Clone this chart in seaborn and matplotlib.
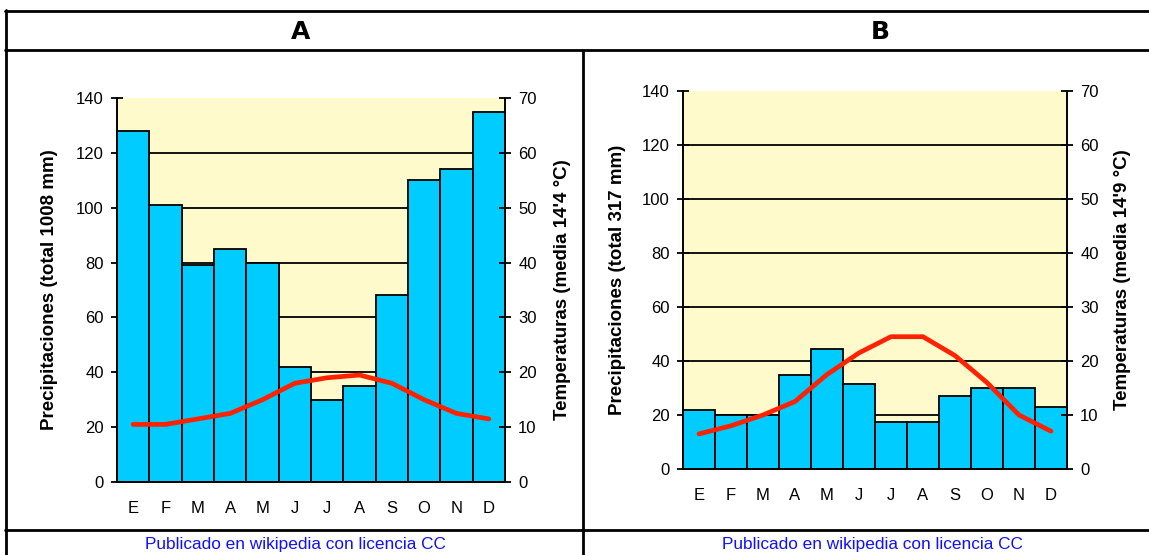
import numpy as np
import pandas as pd
import seaborn as sns
import matplotlib
matplotlib.use("Agg")
import matplotlib.pyplot as plt
from matplotlib.lines import Line2D
from matplotlib.ticker import MultipleLocator, FixedLocator

# Data
meses = ["E", "F", "M", "A", "M", "J", "J", "A", "S", "O", "N", "D"]
precip_a = [128, 101, 79, 85, 80, 42, 30, 35, 68, 110, 114, 135]
temp_a = [10.5, 10.5, 11.5, 12.5, 15, 18, 19, 19.5, 18, 15, 12.5, 11.5]
precip_b = [22, 20, 20, 35, 44.5, 31.5, 17.5, 17.5, 27, 30, 30, 23]
temp_b = [6.5, 8, 10, 12.5, 17.5, 21.5, 24.5, 24.5, 21, 16, 10, 7]

titulos = ["A", "B"]
label_prec = ["Precipitaciones (total 1008 mm)", "Precipitaciones (total 317 mm)"]
label_temp = ["Temperaturas (media 14'4 °C)", "Temperaturas (media 14'9 °C)"]
pie = "Publicado en wikipedia con licencia CC"

W, H = 1149, 555
BAR = "#00CCFF"
FONDO = "#FFFACC"
ROJO = "#FF2200"
PREC_MAX = 140

sns.set_theme(style="white")
plt.rcParams["font.family"] = ["Liberation Sans", "DejaVu Sans"]

fig = plt.figure(figsize=(W / 100, H / 100), dpi=100)
fig.patch.set_facecolor("white")


def px_axes(left, top, right, bottom):
    return [left / W, 1 - bottom / H, (right - left) / W, (bottom - top) / H]


def panel(rect, precip, temp, lab_p, lab_t, lx, rx):
    ax = fig.add_axes(px_axes(*rect))
    df = pd.DataFrame({"pos": np.arange(len(precip)), "prec": precip, "temp": temp})
    ax.set_facecolor(FONDO)
    sns.barplot(data=df, x="pos", y="prec", color=BAR, edgecolor="black",
                linewidth=1.3, width=1.0, saturation=1, ax=ax, zorder=2)
    ax.set_xlim(-0.5, len(precip) - 0.5)
    ax.set_ylim(0, PREC_MAX)
    yt = np.arange(0, PREC_MAX + 1, 20)
    ax.yaxis.set_major_locator(FixedLocator(yt))
    # horizontal grid behind the bars, none on the top edge
    ax.hlines(yt[1:-1], -0.5, len(precip) - 0.5, colors="black",
              linewidth=1.3, zorder=1)
    ax.set_xticks(np.arange(len(meses)), meses)
    ax.xaxis.set_minor_locator(FixedLocator(np.arange(-0.5, len(meses), 1)))
    ax.tick_params(axis="x", which="major", length=0, pad=14, labelsize=12, colors="black")
    ax.tick_params(axis="x", which="minor", length=7, width=1.3, direction="out", color="black")
    ax.tick_params(axis="y", length=9, width=1.3, direction="inout", pad=5,
                   labelsize=12, colors="black", left=True)
    for s in ["top", "right"]:
        ax.spines[s].set_visible(False)
    for s in ["left", "bottom"]:
        ax.spines[s].set_color("black")
        ax.spines[s].set_linewidth(1.4)
    ax.set_xlabel("")
    ax.set_ylabel(lab_p, fontsize=13.5, fontweight="bold", color="black")
    ax.yaxis.set_label_coords(lx, 0.5)

    ax2 = ax.twinx()
    sns.lineplot(data=df, x="pos", y="temp", color=ROJO, linewidth=3.4, ax=ax2)
    ax2.set_ylim(0, PREC_MAX / 2)
    ax2.yaxis.set_major_locator(MultipleLocator(10))
    ax2.tick_params(axis="y", length=9, width=1.3, direction="inout", pad=5,
                    labelsize=12, colors="black", right=True)
    for s in ["top", "left", "bottom"]:
        ax2.spines[s].set_visible(False)
    ax2.spines["right"].set_color("black")
    ax2.spines["right"].set_linewidth(1.4)
    ax2.grid(False)
    ax2.set_ylabel(lab_t, fontsize=13.5, fontweight="bold", color="black",
                   rotation=90)
    ax2.yaxis.set_label_coords(rx, 0.5)
    return ax, ax2


panel((117, 98, 505, 482), precip_a, temp_a, label_prec[0], label_temp[0], -0.152, 1.126)
panel((683, 91, 1067, 469), precip_b, temp_b, label_prec[1], label_temp[1], -0.148, 1.122)

# Table frame
def linea(x0, y0, x1, y1, lw=2.0):
    fig.add_artist(Line2D([x0 / W, x1 / W], [1 - y0 / H, 1 - y1 / H],
                          color="black", linewidth=lw, transform=fig.transFigure))


linea(5, 10.5, W, 10.5)
linea(5.5, 10, 5.5, H)
linea(5, 50, W, 50)
linea(583, 50, 583, H)
linea(5, 530, W, 530)

# Headers and footers
for x, t in zip([301, 880], titulos):
    fig.text(x / W, 1 - 32 / H, t, ha="center", va="center", fontsize=18,
             fontweight="bold", family=["Liberation Sans Narrow", "DejaVu Sans"],
             color="black")
for x in [295, 872]:
    fig.text(x / W, 1 - 545 / H, pie, ha="center", va="center", fontsize=12.4,
             color="#1010FF")

fig.savefig("out.png", dpi=100)
plt.close(fig)
